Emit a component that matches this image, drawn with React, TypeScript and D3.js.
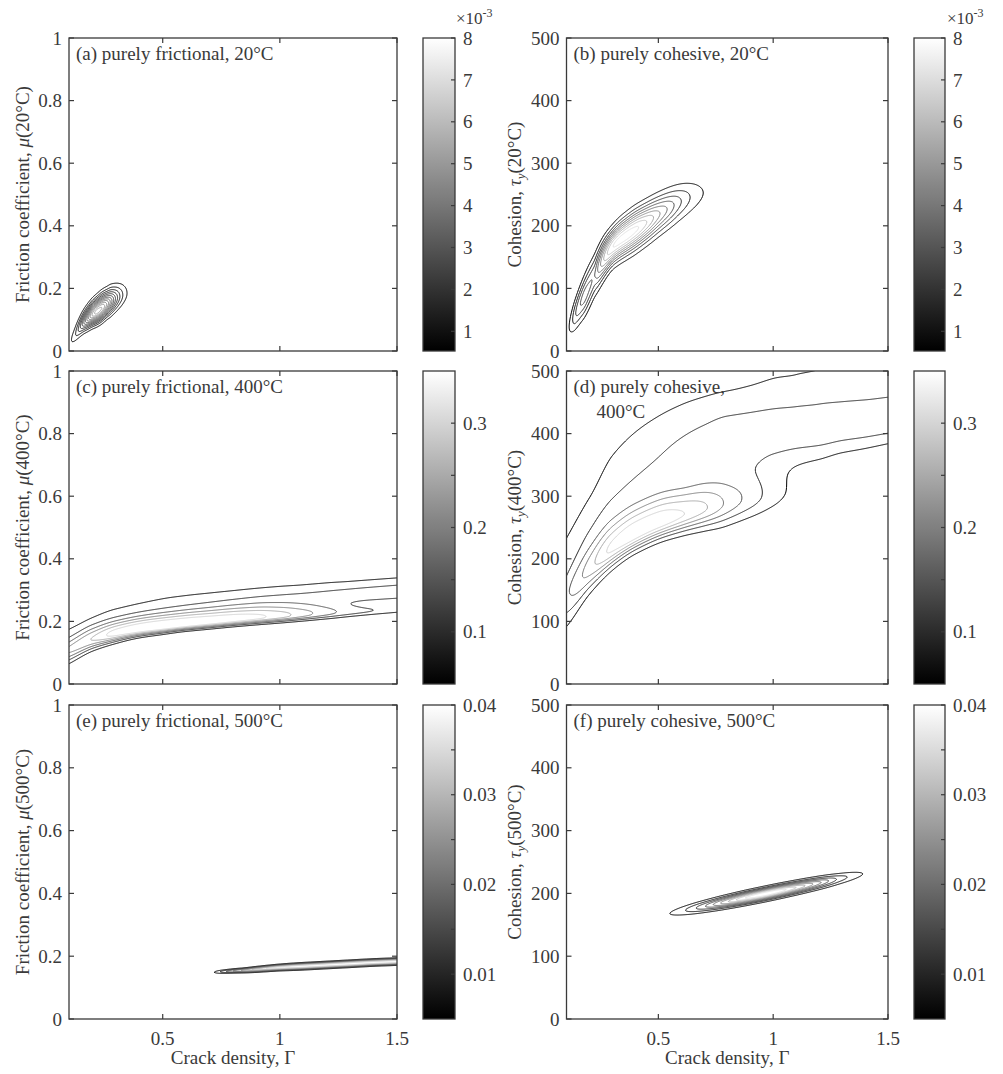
import React, { useMemo } from "react";
import * as d3 from "d3";

const FONT = "'Liberation Serif', 'Times New Roman', serif";
const INK = "#3a3a3a";

// ---------- axes ----------
const gammaDomain = [0.1, 1.5];
const gammaTicks = [0.5, 1, 1.5];
const gammaTickLabels = ["0.5", "1", "1.5"];
const muDomain = [0, 1];
const muTicks = [0, 0.2, 0.4, 0.6, 0.8, 1];
const muTickLabels = ["0", "0.2", "0.4", "0.6", "0.8", "1"];
const tauDomain = [0, 500];
const tauTicks = [0, 100, 200, 300, 400, 500];
const tauTickLabels = ["0", "100", "200", "300", "400", "500"];

// ---------- colorbars ----------
const cb20Range = [0.53, 8]; // x10^-3
const cb20Ticks = [1, 2, 3, 4, 5, 6, 7, 8];
const cb20Labels = ["1", "2", "3", "4", "5", "6", "7", "8"];
const cb20LabelValues = [1, 2, 3, 4, 5, 6, 7, 8];
const cb400Range = [0.05, 0.35];
const cb400Ticks = [0.1, 0.15, 0.2, 0.25, 0.3];
const cb400LabelValues = [0.1, 0.2, 0.3];
const cb400Labels = ["0.1", "0.2", "0.3"];
const cb500Range = [0.005, 0.04];
const cb500Ticks = [0.01, 0.015, 0.02, 0.025, 0.03, 0.035, 0.04];
const cb500LabelValues = [0.01, 0.02, 0.03, 0.04];
const cb500Labels = ["0.01", "0.02", "0.03", "0.04"];

// ---------- contour levels ----------
const levelsA = [0.45, 0.9, 1.35, 1.8, 2.25, 2.7, 3.15, 3.6, 4.05, 4.5, 4.95, 5.4];
const levelsB = [0.8, 1.6, 2.4, 3.2, 4.0, 4.8, 5.6, 6.4, 7.2];
const levelsC = [0.05, 0.1, 0.15, 0.2, 0.25, 0.3];
const levelsD = [0.05, 0.1, 0.15, 0.2, 0.25, 0.3];
const levelsE = [0.005, 0.01, 0.015, 0.02, 0.025, 0.03, 0.035];
const levelsF = [0.004, 0.008, 0.012, 0.016, 0.02, 0.024, 0.028, 0.032, 0.036];

// ---------- posterior ridges ----------
// (a) purely frictional, 20°C  (density x10^-3)
const aKnots = [0.10, 0.12, 0.14, 0.16, 0.18, 0.20, 0.22, 0.24, 0.26, 0.28, 0.30, 0.32, 0.34, 0.36, 0.38, 0.40];
const aAmp = [0.26, 0.65, 1.38, 2.48, 3.83, 5.03, 5.63, 5.41, 4.55, 3.36, 2.17, 1.24, 0.61, 0.26, 0.1, 0.02];
const aCenter = [0.025, 0.045, 0.068, 0.088, 0.103, 0.116, 0.126, 0.137, 0.148, 0.158, 0.167, 0.175, 0.182, 0.188, 0.193, 0.197];
const aWUp = [0.021, 0.021, 0.022, 0.023, 0.024, 0.025, 0.026, 0.027, 0.027, 0.028, 0.028, 0.028, 0.028, 0.028, 0.028, 0.028];
const aWDown = [0.017, 0.017, 0.018, 0.019, 0.020, 0.021, 0.022, 0.023, 0.023, 0.024, 0.024, 0.024, 0.024, 0.024, 0.024, 0.024];

// (b) purely cohesive, 20°C (density x10^-3)
const bKnots = [0.10, 0.12, 0.14, 0.16, 0.18, 0.20, 0.22, 0.24, 0.26, 0.28, 0.30, 0.33, 0.36, 0.40, 0.45, 0.50, 0.55, 0.60, 0.65, 0.70, 0.75];
const bAmp = [0.3, 1.2, 2.4, 3.2, 3.6, 3.35, 3.15, 4.3, 5.5, 6.5, 7.15, 7.55, 7.65, 7.4, 6.4, 5.0, 3.7, 2.4, 1.4, 0.75, 0.3];
const bCenter = [30, 45, 60, 75, 89, 104, 119, 133, 146, 157, 166, 176, 184, 194, 206, 218, 229, 239, 247, 253, 257];
const bWidth = [15, 16, 17, 18.5, 20, 21, 21, 20, 19, 18, 17.5, 18, 18.5, 19, 19, 19, 19, 19, 19, 18, 17];

// (c) purely frictional, 400°C — main ridge + upper shoulder
const cKnots = [0.1, 0.2, 0.3, 0.4, 0.5, 0.6, 0.7, 0.8, 0.9, 1.0, 1.1, 1.2, 1.3, 1.4, 1.5];
const c1Amp = [0.17, 0.215, 0.295, 0.325, 0.34, 0.338, 0.328, 0.315, 0.29, 0.25, 0.195, 0.145, 0.105, 0.08, 0.065];
const c1Center = [0.105, 0.14, 0.16, 0.173, 0.182, 0.19, 0.197, 0.204, 0.21, 0.215, 0.22, 0.225, 0.229, 0.233, 0.237];
const c1WUp = [0.022, 0.026, 0.026, 0.026, 0.026, 0.026, 0.026, 0.026, 0.026, 0.025, 0.023, 0.02, 0.016, 0.013, 0.012];
const c1WDown = [0.025, 0.02, 0.016, 0.013, 0.012, 0.011, 0.011, 0.011, 0.011, 0.011, 0.011, 0.011, 0.01, 0.009, 0.008];
const c2Amp = [0.08, 0.07, 0.07, 0.075, 0.08, 0.085, 0.09, 0.095, 0.1, 0.105, 0.11, 0.115, 0.12, 0.123, 0.125];
const c2Center = [0.14, 0.175, 0.2, 0.215, 0.228, 0.238, 0.247, 0.255, 0.262, 0.268, 0.273, 0.278, 0.283, 0.288, 0.293];
const c2WUp = [0.035, 0.04, 0.045, 0.045, 0.045, 0.043, 0.04, 0.038, 0.037, 0.036, 0.035, 0.035, 0.034, 0.034, 0.034];
const c2WDown = [0.03, 0.03, 0.03, 0.03, 0.03, 0.03, 0.03, 0.03, 0.03, 0.03, 0.03, 0.029, 0.028, 0.028, 0.028];

// (d) purely cohesive, 400°C — main ridge + upper ridge + high tail
const dKnots = [0.1, 0.2, 0.3, 0.4, 0.5, 0.6, 0.7, 0.8, 0.9, 1.0, 1.1, 1.2, 1.3, 1.4, 1.5];
const d1Amp = [0.135, 0.225, 0.315, 0.345, 0.34, 0.305, 0.255, 0.18, 0.12, 0.07, 0.032, 0.01, 0, 0, 0];
const d1Center = [141, 185, 218, 241, 258, 270, 280, 288, 296, 303, 310, 316, 321, 326, 330];
const d1WUp = [26, 30, 32, 32, 32, 32, 32, 32, 32, 32, 32, 32, 32, 32, 32];
const d1WDown = [35, 24, 19, 17, 17, 18, 20, 22, 22, 22, 22, 22, 22, 22, 22];
const d2Amp = [0.065, 0.075, 0.085, 0.093, 0.1, 0.11, 0.12, 0.13, 0.13, 0.13, 0.13, 0.13, 0.13, 0.13, 0.13];
const d2Center = [200, 255, 300, 330, 350, 365, 377, 387, 393, 398, 402, 405, 411, 415, 420];
const d2WUp = [45, 47, 63, 65, 66, 64, 60, 55, 53, 52, 50, 50, 45, 42, 40];
const d2WDown = [25, 26, 28, 30, 30, 30, 36, 42, 42, 36, 33, 32, 30, 28, 26];
const d3Amp = [0, 0, 0, 0, 0, 0.003, 0.007, 0.012, 0.02, 0.027, 0.031, 0.033, 0.04, 0.045, 0.045];
const d3Center = [520, 520, 520, 520, 520, 520, 520, 520, 520, 520, 520, 520, 520, 520, 520];
const d3WUp = [70, 70, 70, 70, 70, 70, 70, 70, 70, 70, 70, 70, 70, 70, 70];
const d3WDown = [45, 45, 45, 45, 45, 45, 45, 45, 45, 45, 45, 45, 45, 45, 45];

// (e) purely frictional, 500°C
const eKnots = [0.68, 0.72, 0.76, 0.8, 0.85, 0.9, 1.0, 1.1, 1.2, 1.3, 1.4, 1.5, 1.55];
const eAmp = [0, 0.005, 0.013, 0.02, 0.027, 0.032, 0.038, 0.04, 0.04, 0.041, 0.04, 0.04, 0.04];
const eCenter = [0.147, 0.149, 0.151, 0.153, 0.155, 0.158, 0.164, 0.168, 0.172, 0.176, 0.18, 0.183, 0.185];
const eWidth = [0.004, 0.004, 0.004, 0.0042, 0.0045, 0.005, 0.0055, 0.006, 0.006, 0.006, 0.006, 0.006, 0.006];

// (f) purely cohesive, 500°C
const fKnots = [0.45, 0.5, 0.55, 0.6, 0.7, 0.8, 0.9, 0.97, 1.0, 1.1, 1.2, 1.3, 1.4, 1.5];
const fAmp = [0.001, 0.0024, 0.004, 0.0067, 0.0155, 0.0275, 0.0375, 0.04, 0.0395, 0.032, 0.021, 0.0097, 0.0036, 0.001];
const fCenter = [160.5, 164.3, 168, 171.8, 179.3, 186.8, 194.3, 199.5, 201.8, 209.3, 216.8, 224.3, 231.8, 239.3];
const fWidth = [6, 6, 6, 6, 6, 6, 6, 6, 6, 6, 6, 6, 6, 6];

// ---------- layout ----------
const cols = [
  { left: 69, right: 397, cbLeft: 423, cbRight: 455, yLabelX: 29 },
  { left: 566.5, right: 888, cbLeft: 914, cbRight: 945, yLabelX: 521 },
];
const rows = [
  { top: 38, bottom: 351 },
  { top: 371, bottom: 684 },
  { top: 705, bottom: 1019 },
];

type Ridge = { knots: number[]; center: number[]; amp: number[]; wUp: number[]; wDown: number[] };

function monotoneSpline(xs: number[], ys: number[]) {
  const n = xs.length;
  const h: number[] = [];
  const del: number[] = [];
  for (let i = 0; i < n - 1; i++) {
    h.push(xs[i + 1] - xs[i]);
    del.push((ys[i + 1] - ys[i]) / h[i]);
  }
  const m: number[] = new Array(n).fill(0);
  m[0] = del[0];
  m[n - 1] = del[n - 2];
  for (let i = 1; i < n - 1; i++) {
    if (del[i - 1] * del[i] <= 0) m[i] = 0;
    else {
      const w1 = 2 * h[i] + h[i - 1];
      const w2 = h[i] + 2 * h[i - 1];
      m[i] = (w1 + w2) / (w1 / del[i - 1] + w2 / del[i]);
    }
  }
  return (x: number) => {
    if (x <= xs[0]) return ys[0];
    if (x >= xs[n - 1]) return ys[n - 1];
    let i = d3.bisectRight(xs, x) - 1;
    if (i > n - 2) i = n - 2;
    const hh = h[i];
    const t = (x - xs[i]) / hh;
    const t2 = t * t, t3 = t2 * t;
    return (2 * t3 - 3 * t2 + 1) * ys[i] + (t3 - 2 * t2 + t) * hh * m[i] + (-2 * t3 + 3 * t2) * ys[i + 1] + (t3 - t2) * hh * m[i + 1];
  };
}

const gray = (t: number) => {
  const v = Math.round(255 * Math.max(0, Math.min(1, t)));
  return `rgb(${v},${v},${v})`;
};

type PanelSpec = {
  id: string;
  col: number;
  row: number;
  yDomain: number[];
  yTicks: number[];
  yTickLabels: string[];
  ridges: Ridge[];
  levels: number[];
  cb: { range: number[]; ticks: number[]; labelValues: number[]; labels: string[]; exponent: boolean };
  step: number;
  title: string[];
  kind: "mu" | "tau";
  temp: string;
};

const cb20 = { range: cb20Range, ticks: cb20Ticks, labelValues: cb20LabelValues, labels: cb20Labels, exponent: true };
const cb400 = { range: cb400Range, ticks: cb400Ticks, labelValues: cb400LabelValues, labels: cb400Labels, exponent: false };
const cb500 = { range: cb500Range, ticks: cb500Ticks, labelValues: cb500LabelValues, labels: cb500Labels, exponent: false };

const panelSpecs: PanelSpec[] = [
  { id: "a", col: 0, row: 0, yDomain: muDomain, yTicks: muTicks, yTickLabels: muTickLabels, kind: "mu", temp: "20",
    ridges: [{ knots: aKnots, center: aCenter, amp: aAmp, wUp: aWUp, wDown: aWDown }], levels: levelsA, cb: cb20, step: 0.5,
    title: ["(a) purely frictional, 20°C"] },
  { id: "b", col: 1, row: 0, yDomain: tauDomain, yTicks: tauTicks, yTickLabels: tauTickLabels, kind: "tau", temp: "20",
    ridges: [{ knots: bKnots, center: bCenter, amp: bAmp, wUp: bWidth, wDown: bWidth }], levels: levelsB, cb: cb20, step: 1,
    title: ["(b) purely cohesive, 20°C"] },
  { id: "c", col: 0, row: 1, yDomain: muDomain, yTicks: muTicks, yTickLabels: muTickLabels, kind: "mu", temp: "400",
    ridges: [
      { knots: cKnots, center: c1Center, amp: c1Amp, wUp: c1WUp, wDown: c1WDown },
      { knots: cKnots, center: c2Center, amp: c2Amp, wUp: c2WUp, wDown: c2WDown },
    ], levels: levelsC, cb: cb400, step: 0.5, title: ["(c) purely frictional, 400°C"] },
  { id: "d", col: 1, row: 1, yDomain: tauDomain, yTicks: tauTicks, yTickLabels: tauTickLabels, kind: "tau", temp: "400",
    ridges: [
      { knots: dKnots, center: d1Center, amp: d1Amp, wUp: d1WUp, wDown: d1WDown },
      { knots: dKnots, center: d2Center, amp: d2Amp, wUp: d2WUp, wDown: d2WDown },
      { knots: dKnots, center: d3Center, amp: d3Amp, wUp: d3WUp, wDown: d3WDown },
    ], levels: levelsD, cb: cb400, step: 1, title: ["(d) purely cohesive,", "400°C"] },
  { id: "e", col: 0, row: 2, yDomain: muDomain, yTicks: muTicks, yTickLabels: muTickLabels, kind: "mu", temp: "500",
    ridges: [{ knots: eKnots, center: eCenter, amp: eAmp, wUp: eWidth, wDown: eWidth }], levels: levelsE, cb: cb500, step: 0.5,
    title: ["(e) purely frictional, 500°C"] },
  { id: "f", col: 1, row: 2, yDomain: tauDomain, yTicks: tauTicks, yTickLabels: tauTickLabels, kind: "tau", temp: "500",
    ridges: [{ knots: fKnots, center: fCenter, amp: fAmp, wUp: fWidth, wDown: fWidth }], levels: levelsF, cb: cb500, step: 0.5,
    title: ["(f) purely cohesive, 500°C"] },
];

function buildContours(spec: PanelSpec) {
  const c = cols[spec.col];
  const r = rows[spec.row];
  const x = d3.scaleLinear().domain(gammaDomain).range([c.left, c.right]);
  const y = d3.scaleLinear().domain(spec.yDomain).range([r.bottom, r.top]);
  const pad = 4;
  const step = spec.step;
  const nx = Math.ceil((c.right - c.left + 2 * pad) / step) + 1;
  const ny = Math.ceil((r.bottom - r.top + 2 * pad) / step) + 1;
  const values = new Array(nx * ny).fill(0);
  const fns = spec.ridges.map((rd) => ({
    center: monotoneSpline(rd.knots, rd.center),
    amp: monotoneSpline(rd.knots, rd.amp),
    wUp: monotoneSpline(rd.knots, rd.wUp),
    wDown: monotoneSpline(rd.knots, rd.wDown),
  }));
  for (let i = 0; i < nx; i++) {
    const g = x.invert(c.left - pad + i * step);
    const ps = fns.map((f) => ({ m: f.center(g), a: Math.max(0, f.amp(g)), wu: f.wUp(g), wd: f.wDown(g) }));
    for (let j = 0; j < ny; j++) {
      const v = y.invert(r.top - pad + j * step);
      let s = 0;
      for (const p of ps) {
        if (p.a <= 0) continue;
        const d = v - p.m;
        const w = d > 0 ? p.wu : p.wd;
        const z = d / w;
        s += p.a * Math.exp(-0.5 * z * z);
      }
      values[j * nx + i] = s;
    }
  }
  const gen = d3.contours().size([nx, ny]).thresholds(spec.levels);
  const polys = gen(values);
  const proj = d3.geoTransform({
    point(px: number, py: number) {
      (this as any).stream.point(c.left - pad + (px - 0.5) * step, r.top - pad + (py - 0.5) * step);
    },
  });
  const path = d3.geoPath(proj);
  const [lo, hi] = spec.cb.range;
  return polys.map((p) => ({ d: path(p as any) || "", color: gray((p.value - lo) / (hi - lo)), value: p.value }));
}

function YLabel({ spec }: { spec: PanelSpec }) {
  const c = cols[spec.col];
  const r = rows[spec.row];
  const cy = (r.top + r.bottom) / 2;
  const tr = `translate(${c.yLabelX},${cy}) rotate(-90)`;
  if (spec.kind === "mu") {
    return (
      <text transform={tr} textAnchor="middle" fontSize={19} fill={INK}>
        Friction coefficient, <tspan fontStyle="italic">μ</tspan>({spec.temp}°C)
      </text>
    );
  }
  return (
    <text transform={tr} textAnchor="middle" fontSize={19} fill={INK}>
      Cohesion, <tspan fontStyle="italic">τ</tspan>
      <tspan fontStyle="italic" fontSize={13} dy={4}>y</tspan>
      <tspan dy={-4}>({spec.temp}°C)</tspan>
    </text>
  );
}

function Panel({ spec }: { spec: PanelSpec }) {
  const c = cols[spec.col];
  const r = rows[spec.row];
  const x = d3.scaleLinear().domain(gammaDomain).range([c.left, c.right]);
  const y = d3.scaleLinear().domain(spec.yDomain).range([r.bottom, r.top]);
  const contours = useMemo(() => buildContours(spec), [spec]);
  const cbScale = d3.scaleLinear().domain(spec.cb.range).range([r.bottom, r.top]);
  const tk = 5;
  const clipId = `clip-${spec.id}`;
  return (
    <g>
      <defs>
        <clipPath id={clipId}>
          <rect x={c.left} y={r.top} width={c.right - c.left} height={r.bottom - r.top} />
        </clipPath>
      </defs>
      <g clipPath={`url(#${clipId})`}>
        {contours.map((ct, k) => (
          <path key={k} d={ct.d} fill="none" stroke={ct.color} strokeWidth={1} strokeLinejoin="round" />
        ))}
      </g>
      <g stroke={INK} strokeWidth={1.2}>
        {spec.yTicks.map((t) => (
          <g key={"y" + t}>
            <line x1={c.left} x2={c.left + tk} y1={y(t)} y2={y(t)} />
            <line x1={c.right} x2={c.right - tk} y1={y(t)} y2={y(t)} />
          </g>
        ))}
        {gammaTicks.map((t) => (
          <g key={"x" + t}>
            <line x1={x(t)} x2={x(t)} y1={r.bottom} y2={r.bottom - tk} />
            <line x1={x(t)} x2={x(t)} y1={r.top} y2={r.top + tk} />
          </g>
        ))}
      </g>
      <rect x={c.left} y={r.top} width={c.right - c.left} height={r.bottom - r.top} fill="none" stroke={INK} strokeWidth={1.3} />
      {spec.yTicks.map((t, k) => (
        <text key={"yl" + t} x={c.left - 7} y={y(t)} dy="0.35em" textAnchor="end" fontSize={19} fill={INK}>
          {spec.yTickLabels[k]}
        </text>
      ))}
      {spec.row === 2 &&
        gammaTicks.map((t, k) => (
          <text key={"xl" + t} x={x(t)} y={r.bottom + 26} textAnchor="middle" fontSize={19} fill={INK}>
            {gammaTickLabels[k]}
          </text>
        ))}
      {spec.row === 2 && (
        <text x={(c.left + c.right) / 2} y={r.bottom + 45} textAnchor="middle" fontSize={19} fill={INK}>
          Crack density, Γ
        </text>
      )}
      <YLabel spec={spec} />
      {spec.title.map((line, k) => (
        <text key={"t" + k} x={c.left + (k === 0 ? 7 : 30)} y={r.top + 22 + k * 25} fontSize={19} fill={INK}>
          {line}
        </text>
      ))}
      <rect x={c.cbLeft} y={r.top} width={c.cbRight - c.cbLeft} height={r.bottom - r.top} fill="url(#cbgrad)" stroke={INK} strokeWidth={1.3} />
      <g stroke={INK} strokeWidth={1.2}>
        {spec.cb.ticks.map((t) => (
          <line key={"cbt" + t} x1={c.cbRight} x2={c.cbRight - 4} y1={cbScale(t)} y2={cbScale(t)} />
        ))}
      </g>
      {spec.cb.labelValues.map((t, k) => (
        <text key={"cbl" + t} x={c.cbRight + 8} y={cbScale(t)} dy="0.35em" fontSize={19} fill={INK}>
          {spec.cb.labels[k]}
        </text>
      ))}
      {spec.cb.exponent && (
        <text x={c.cbLeft + 33} y={r.top - 14} fontSize={17} fill={INK}>
          ×10<tspan fontSize={12} dy={-7}>-3</tspan>
        </text>
      )}
    </g>
  );
}

const gradStops = d3.range(0, 65).map((k) => k / 64);

export default function App() {
  return (
    <svg width={1003} height={1074} style={{ position: "absolute", left: 0, top: 0, background: "#fff" }} fontFamily={FONT}>
      <defs>
        <linearGradient id="cbgrad" x1="0" y1="1" x2="0" y2="0">
          {gradStops.map((t) => (
            <stop key={t} offset={t} stopColor={gray(t)} />
          ))}
        </linearGradient>
      </defs>
      <rect x={0} y={0} width={1003} height={1074} fill="#fff" />
      {panelSpecs.map((s) => (
        <Panel key={s.id} spec={s} />
      ))}
    </svg>
  );
}
